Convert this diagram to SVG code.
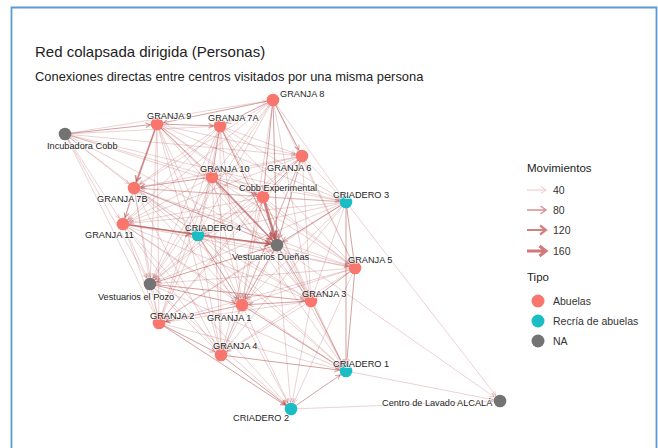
<svg xmlns="http://www.w3.org/2000/svg" width="658" height="448" viewBox="0 0 658 448">
<style>
.t{font-family:"Liberation Sans",Arial,sans-serif;fill:#222}
.lb{font-family:"Liberation Sans",Arial,sans-serif;font-size:9.2px;fill:#1e1e1e;stroke:#fff;stroke-width:2;stroke-opacity:.6;paint-order:stroke}
.lg{font-family:"Liberation Sans",Arial,sans-serif;font-size:10.5px;fill:#333}
#edges line{stroke:#b55252;fill:none}
.e1{stroke-opacity:.4;stroke-width:.65;marker-end:url(#a1)}
.e2{stroke-opacity:.55;stroke-width:1;marker-end:url(#a2)}
.e3{stroke-opacity:.65;stroke-width:1.6;marker-end:url(#a3)}
.e4{stroke-opacity:.72;stroke-width:2.6;marker-end:url(#a4)}
.ab{fill:#F8766D}.rc{fill:#19BDC3}.na{fill:#737373}
</style>
<defs>
<marker id="a1" markerUnits="userSpaceOnUse" markerWidth="12" markerHeight="12" viewBox="-10 -6 12 12" refX="7" refY="0" orient="auto" overflow="visible"><path d="M-4,-2 L0,0 L-4,2" fill="none" stroke="#b55252" stroke-opacity=".4" stroke-width=".65"/></marker>
<marker id="a2" markerUnits="userSpaceOnUse" markerWidth="12" markerHeight="12" viewBox="-10 -6 12 12" refX="7" refY="0" orient="auto" overflow="visible"><path d="M-4.5,-2.5 L0,0 L-4.5,2.5" fill="none" stroke="#b55252" stroke-opacity=".55" stroke-width="1"/></marker>
<marker id="a3" markerUnits="userSpaceOnUse" markerWidth="12" markerHeight="12" viewBox="-10 -6 12 12" refX="7.5" refY="0" orient="auto" overflow="visible"><path d="M-5,-3 L0,0 L-5,3" fill="none" stroke="#b55252" stroke-opacity=".65" stroke-width="1.6"/></marker>
<marker id="a4" markerUnits="userSpaceOnUse" markerWidth="12" markerHeight="12" viewBox="-10 -6 12 12" refX="8" refY="0" orient="auto" overflow="visible"><path d="M-6,-3.5 L0,0 L-6,3.5" fill="none" stroke="#b55252" stroke-opacity=".72" stroke-width="2.6"/></marker>
</defs>
<rect width="658" height="448" fill="#fff"/>
<path d="M11.5,448 V7.5 H656.5 V448" fill="none" stroke="#5b9bd5" stroke-width="1.8"/>
<text class="t" x="35" y="57" font-size="15">Red colapsada dirigida (Personas)</text>
<text class="t" x="35" y="81" font-size="12.9">Conexiones directas entre centros visitados por una misma persona</text>
<g id="edges">
<line class="e2" x1="273" y1="100" x2="157" y2="124"/>
<line class="e2" x1="273" y1="100" x2="220" y2="126"/>
<line class="e1" x1="65" y1="134" x2="273" y2="100"/>
<line class="e2" x1="273" y1="100" x2="302" y2="156"/>
<line class="e1" x1="273" y1="100" x2="212" y2="177"/>
<line class="e2" x1="273" y1="100" x2="263" y2="197"/>
<line class="e1" x1="273" y1="100" x2="346" y2="202"/>
<line class="e1" x1="273" y1="100" x2="134" y2="188"/>
<line class="e1" x1="273" y1="100" x2="123" y2="224"/>
<line class="e1" x1="273" y1="100" x2="198" y2="235"/>
<line class="e2" x1="273" y1="100" x2="277" y2="245"/>
<line class="e1" x1="273" y1="100" x2="355" y2="268"/>
<line class="e1" x1="273" y1="100" x2="150" y2="284"/>
<line class="e1" x1="273" y1="100" x2="311" y2="301"/>
<line class="e1" x1="273" y1="100" x2="242" y2="305"/>
<line class="e2" x1="157" y1="124" x2="220" y2="126"/>
<line class="e2" x1="65" y1="134" x2="157" y2="124"/>
<line class="e1" x1="157" y1="124" x2="302" y2="156"/>
<line class="e2" x1="157" y1="124" x2="212" y2="177"/>
<line class="e1" x1="157" y1="124" x2="263" y2="197"/>
<line class="e1" x1="157" y1="124" x2="346" y2="202"/>
<line class="e3" x1="157" y1="124" x2="134" y2="188"/>
<line class="e1" x1="157" y1="124" x2="123" y2="224"/>
<line class="e1" x1="157" y1="124" x2="198" y2="235"/>
<line class="e1" x1="157" y1="124" x2="277" y2="245"/>
<line class="e1" x1="157" y1="124" x2="355" y2="268"/>
<line class="e1" x1="157" y1="124" x2="150" y2="284"/>
<line class="e1" x1="157" y1="124" x2="311" y2="301"/>
<line class="e1" x1="157" y1="124" x2="242" y2="305"/>
<line class="e1" x1="157" y1="124" x2="159" y2="323"/>
<line class="e1" x1="157" y1="124" x2="221" y2="355"/>
<line class="e1" x1="65" y1="134" x2="220" y2="126"/>
<line class="e1" x1="220" y1="126" x2="302" y2="156"/>
<line class="e2" x1="220" y1="126" x2="212" y2="177"/>
<line class="e1" x1="220" y1="126" x2="263" y2="197"/>
<line class="e1" x1="220" y1="126" x2="346" y2="202"/>
<line class="e1" x1="220" y1="126" x2="134" y2="188"/>
<line class="e1" x1="220" y1="126" x2="123" y2="224"/>
<line class="e1" x1="220" y1="126" x2="198" y2="235"/>
<line class="e2" x1="220" y1="126" x2="277" y2="245"/>
<line class="e1" x1="220" y1="126" x2="355" y2="268"/>
<line class="e1" x1="220" y1="126" x2="150" y2="284"/>
<line class="e1" x1="220" y1="126" x2="311" y2="301"/>
<line class="e1" x1="220" y1="126" x2="242" y2="305"/>
<line class="e1" x1="220" y1="126" x2="159" y2="323"/>
<line class="e1" x1="220" y1="126" x2="221" y2="355"/>
<line class="e1" x1="65" y1="134" x2="302" y2="156"/>
<line class="e1" x1="65" y1="134" x2="212" y2="177"/>
<line class="e1" x1="65" y1="134" x2="263" y2="197"/>
<line class="e1" x1="65" y1="134" x2="346" y2="202"/>
<line class="e1" x1="65" y1="134" x2="134" y2="188"/>
<line class="e1" x1="65" y1="134" x2="123" y2="224"/>
<line class="e1" x1="65" y1="134" x2="198" y2="235"/>
<line class="e1" x1="65" y1="134" x2="277" y2="245"/>
<line class="e1" x1="65" y1="134" x2="150" y2="284"/>
<line class="e1" x1="65" y1="134" x2="159" y2="323"/>
<line class="e1" x1="302" y1="156" x2="212" y2="177"/>
<line class="e2" x1="302" y1="156" x2="263" y2="197"/>
<line class="e1" x1="302" y1="156" x2="346" y2="202"/>
<line class="e1" x1="302" y1="156" x2="134" y2="188"/>
<line class="e1" x1="302" y1="156" x2="123" y2="224"/>
<line class="e1" x1="302" y1="156" x2="198" y2="235"/>
<line class="e2" x1="302" y1="156" x2="277" y2="245"/>
<line class="e1" x1="302" y1="156" x2="355" y2="268"/>
<line class="e1" x1="302" y1="156" x2="150" y2="284"/>
<line class="e1" x1="302" y1="156" x2="311" y2="301"/>
<line class="e1" x1="302" y1="156" x2="242" y2="305"/>
<line class="e1" x1="302" y1="156" x2="159" y2="323"/>
<line class="e1" x1="302" y1="156" x2="221" y2="355"/>
<line class="e2" x1="212" y1="177" x2="263" y2="197"/>
<line class="e1" x1="212" y1="177" x2="346" y2="202"/>
<line class="e2" x1="212" y1="177" x2="134" y2="188"/>
<line class="e1" x1="212" y1="177" x2="123" y2="224"/>
<line class="e1" x1="212" y1="177" x2="198" y2="235"/>
<line class="e3" x1="212" y1="177" x2="277" y2="245"/>
<line class="e1" x1="212" y1="177" x2="355" y2="268"/>
<line class="e1" x1="212" y1="177" x2="150" y2="284"/>
<line class="e1" x1="212" y1="177" x2="311" y2="301"/>
<line class="e1" x1="212" y1="177" x2="242" y2="305"/>
<line class="e1" x1="212" y1="177" x2="159" y2="323"/>
<line class="e1" x1="212" y1="177" x2="221" y2="355"/>
<line class="e1" x1="212" y1="177" x2="346" y2="371"/>
<line class="e1" x1="263" y1="197" x2="346" y2="202"/>
<line class="e1" x1="263" y1="197" x2="134" y2="188"/>
<line class="e1" x1="263" y1="197" x2="123" y2="224"/>
<line class="e1" x1="263" y1="197" x2="198" y2="235"/>
<line class="e4" x1="263" y1="197" x2="277" y2="245"/>
<line class="e1" x1="263" y1="197" x2="355" y2="268"/>
<line class="e1" x1="263" y1="197" x2="150" y2="284"/>
<line class="e1" x1="263" y1="197" x2="311" y2="301"/>
<line class="e1" x1="263" y1="197" x2="242" y2="305"/>
<line class="e1" x1="263" y1="197" x2="159" y2="323"/>
<line class="e1" x1="263" y1="197" x2="221" y2="355"/>
<line class="e1" x1="263" y1="197" x2="346" y2="371"/>
<line class="e1" x1="346" y1="202" x2="134" y2="188"/>
<line class="e1" x1="346" y1="202" x2="123" y2="224"/>
<line class="e1" x1="346" y1="202" x2="198" y2="235"/>
<line class="e2" x1="346" y1="202" x2="277" y2="245"/>
<line class="e2" x1="346" y1="202" x2="355" y2="268"/>
<line class="e1" x1="346" y1="202" x2="150" y2="284"/>
<line class="e1" x1="346" y1="202" x2="311" y2="301"/>
<line class="e1" x1="346" y1="202" x2="242" y2="305"/>
<line class="e1" x1="346" y1="202" x2="159" y2="323"/>
<line class="e1" x1="346" y1="202" x2="221" y2="355"/>
<line class="e2" x1="346" y1="202" x2="346" y2="371"/>
<line class="e1" x1="346" y1="202" x2="500" y2="401"/>
<line class="e2" x1="134" y1="188" x2="123" y2="224"/>
<line class="e1" x1="134" y1="188" x2="198" y2="235"/>
<line class="e2" x1="134" y1="188" x2="277" y2="245"/>
<line class="e1" x1="134" y1="188" x2="355" y2="268"/>
<line class="e1" x1="134" y1="188" x2="150" y2="284"/>
<line class="e1" x1="134" y1="188" x2="311" y2="301"/>
<line class="e1" x1="134" y1="188" x2="242" y2="305"/>
<line class="e1" x1="134" y1="188" x2="159" y2="323"/>
<line class="e1" x1="134" y1="188" x2="221" y2="355"/>
<line class="e1" x1="134" y1="188" x2="346" y2="371"/>
<line class="e3" x1="123" y1="224" x2="198" y2="235"/>
<line class="e2" x1="123" y1="224" x2="277" y2="245"/>
<line class="e1" x1="123" y1="224" x2="355" y2="268"/>
<line class="e1" x1="123" y1="224" x2="150" y2="284"/>
<line class="e1" x1="123" y1="224" x2="311" y2="301"/>
<line class="e1" x1="123" y1="224" x2="242" y2="305"/>
<line class="e1" x1="123" y1="224" x2="159" y2="323"/>
<line class="e1" x1="123" y1="224" x2="221" y2="355"/>
<line class="e1" x1="123" y1="224" x2="346" y2="371"/>
<line class="e1" x1="123" y1="224" x2="291" y2="409"/>
<line class="e3" x1="198" y1="235" x2="277" y2="245"/>
<line class="e1" x1="198" y1="235" x2="355" y2="268"/>
<line class="e1" x1="198" y1="235" x2="150" y2="284"/>
<line class="e1" x1="198" y1="235" x2="311" y2="301"/>
<line class="e2" x1="198" y1="235" x2="242" y2="305"/>
<line class="e1" x1="198" y1="235" x2="159" y2="323"/>
<line class="e1" x1="198" y1="235" x2="221" y2="355"/>
<line class="e1" x1="198" y1="235" x2="346" y2="371"/>
<line class="e1" x1="198" y1="235" x2="291" y2="409"/>
<line class="e1" x1="277" y1="245" x2="355" y2="268"/>
<line class="e2" x1="277" y1="245" x2="150" y2="284"/>
<line class="e2" x1="277" y1="245" x2="311" y2="301"/>
<line class="e2" x1="277" y1="245" x2="242" y2="305"/>
<line class="e1" x1="277" y1="245" x2="159" y2="323"/>
<line class="e1" x1="277" y1="245" x2="221" y2="355"/>
<line class="e1" x1="277" y1="245" x2="346" y2="371"/>
<line class="e1" x1="277" y1="245" x2="291" y2="409"/>
<line class="e1" x1="277" y1="245" x2="500" y2="401"/>
<line class="e1" x1="355" y1="268" x2="150" y2="284"/>
<line class="e2" x1="355" y1="268" x2="311" y2="301"/>
<line class="e1" x1="355" y1="268" x2="242" y2="305"/>
<line class="e1" x1="355" y1="268" x2="159" y2="323"/>
<line class="e1" x1="355" y1="268" x2="221" y2="355"/>
<line class="e2" x1="355" y1="268" x2="346" y2="371"/>
<line class="e1" x1="355" y1="268" x2="291" y2="409"/>
<line class="e2" x1="150" y1="284" x2="311" y2="301"/>
<line class="e2" x1="150" y1="284" x2="242" y2="305"/>
<line class="e1" x1="150" y1="284" x2="159" y2="323"/>
<line class="e1" x1="150" y1="284" x2="221" y2="355"/>
<line class="e1" x1="150" y1="284" x2="346" y2="371"/>
<line class="e1" x1="150" y1="284" x2="291" y2="409"/>
<line class="e2" x1="311" y1="301" x2="242" y2="305"/>
<line class="e1" x1="311" y1="301" x2="159" y2="323"/>
<line class="e1" x1="311" y1="301" x2="221" y2="355"/>
<line class="e2" x1="311" y1="301" x2="346" y2="371"/>
<line class="e1" x1="311" y1="301" x2="291" y2="409"/>
<line class="e2" x1="242" y1="305" x2="159" y2="323"/>
<line class="e1" x1="242" y1="305" x2="221" y2="355"/>
<line class="e2" x1="242" y1="305" x2="346" y2="371"/>
<line class="e1" x1="242" y1="305" x2="291" y2="409"/>
<line class="e2" x1="159" y1="323" x2="221" y2="355"/>
<line class="e1" x1="159" y1="323" x2="346" y2="371"/>
<line class="e2" x1="159" y1="323" x2="291" y2="409"/>
<line class="e2" x1="221" y1="355" x2="346" y2="371"/>
<line class="e2" x1="221" y1="355" x2="291" y2="409"/>
<line class="e2" x1="291" y1="409" x2="346" y2="371"/>
<line class="e1" x1="346" y1="371" x2="500" y2="401"/>
<line class="e1" x1="291" y1="409" x2="500" y2="401"/>
</g>
<g id="n-granja8"><circle class="ab" cx="273" cy="100" r="6.3"/><text class="lb" x="280" y="97">GRANJA 8</text></g>
<g id="n-granja9"><circle class="ab" cx="157" cy="124" r="6.3"/><text class="lb" x="147" y="118.5">GRANJA 9</text></g>
<g id="n-granja7a"><circle class="ab" cx="220" cy="126" r="6.3"/><text class="lb" x="208" y="120.5">GRANJA 7A</text></g>
<g id="n-incubadora"><circle class="na" cx="65" cy="134" r="6.3"/><text class="lb" x="47" y="148.5">Incubadora Cobb</text></g>
<g id="n-granja6"><circle class="ab" cx="302" cy="156" r="6.3"/><text class="lb" x="267" y="170.5">GRANJA 6</text></g>
<g id="n-granja10"><circle class="ab" cx="212" cy="177" r="6.3"/><text class="lb" x="200" y="171.5">GRANJA 10</text></g>
<g id="n-cobbexp"><circle class="ab" cx="263" cy="197" r="6.3"/><text class="lb" x="239" y="190.5">Cobb Experimental</text></g>
<g id="n-criadero3"><circle class="rc" cx="346" cy="202" r="6.3"/><text class="lb" x="333" y="197.5">CRIADERO 3</text></g>
<g id="n-granja7b"><circle class="ab" cx="134" cy="188" r="6.3"/><text class="lb" x="97" y="201.5">GRANJA 7B</text></g>
<g id="n-granja11"><circle class="ab" cx="123" cy="224" r="6.3"/><text class="lb" x="85" y="237.5">GRANJA 11</text></g>
<g id="n-criadero4"><circle class="rc" cx="198" cy="235" r="6.3"/><text class="lb" x="185" y="230.5">CRIADERO 4</text></g>
<g id="n-vestduenas"><circle class="na" cx="277" cy="245" r="6.3"/><text class="lb" x="232" y="259.5">Vestuarios Dueñas</text></g>
<g id="n-granja5"><circle class="ab" cx="355" cy="268" r="6.3"/><text class="lb" x="348" y="262.5">GRANJA 5</text></g>
<g id="n-vestpozo"><circle class="na" cx="150" cy="284" r="6.3"/><text class="lb" x="98" y="299.5">Vestuarios el Pozo</text></g>
<g id="n-granja3"><circle class="ab" cx="311" cy="301" r="6.3"/><text class="lb" x="302" y="296.5">GRANJA 3</text></g>
<g id="n-granja1"><circle class="ab" cx="242" cy="305" r="6.3"/><text class="lb" x="207" y="320.5">GRANJA 1</text></g>
<g id="n-granja2"><circle class="ab" cx="159" cy="323" r="6.3"/><text class="lb" x="150" y="318.5">GRANJA 2</text></g>
<g id="n-granja4"><circle class="ab" cx="221" cy="355" r="6.3"/><text class="lb" x="213" y="348.5">GRANJA 4</text></g>
<g id="n-criadero1"><circle class="rc" cx="346" cy="371" r="6.3"/><text class="lb" x="333" y="366.5">CRIADERO 1</text></g>
<g id="n-criadero2"><circle class="rc" cx="291" cy="409" r="6.3"/><text class="lb" x="233" y="420.5">CRIADERO 2</text></g>
<g id="n-alcala"><circle class="na" cx="500" cy="401" r="6.3"/><text class="lb" x="382" y="405.5">Centro de Lavado ALCALÁ</text></g>
<g id="legend">
<text class="t" x="527" y="172" font-size="11.5">Movimientos</text>
<path d="M527,190H546M541,186.5L546,190L541,193.5" fill="none" stroke="#efbdbd" stroke-width=".9"/>
<path d="M527,210H546M540.5,206L546,210L540.5,214" fill="none" stroke="#dc8f8f" stroke-width="1.4"/>
<path d="M527,230H546M540,225.5L546,230L540,234.5" fill="none" stroke="#d58080" stroke-width="2.2"/>
<path d="M527,251H546M539.5,246L546,251L539.5,256" fill="none" stroke="#d27878" stroke-width="3"/>
<text class="lg" x="553" y="194">40</text>
<text class="lg" x="553" y="214">80</text>
<text class="lg" x="553" y="234">120</text>
<text class="lg" x="553" y="255">160</text>
<text class="t" x="527" y="281" font-size="11.5">Tipo</text>
<circle class="ab" cx="538" cy="301" r="6.5"/>
<circle class="rc" cx="538" cy="321" r="6.5"/>
<circle class="na" cx="538" cy="341" r="6.5"/>
<text class="lg" x="553" y="305">Abuelas</text>
<text class="lg" x="553" y="325">Recría de abuelas</text>
<text class="lg" x="553" y="345">NA</text>
</g>
</svg>
